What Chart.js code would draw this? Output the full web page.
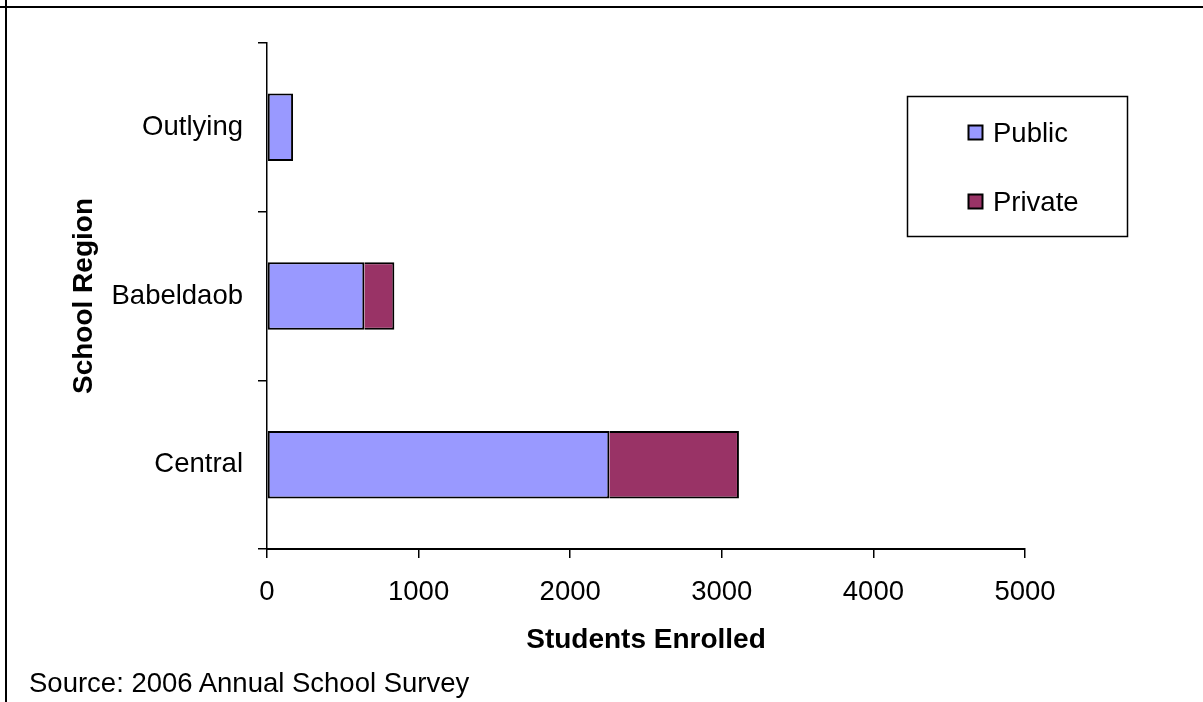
<!DOCTYPE html>
<html>
<head>
<meta charset="utf-8">
<title>Students Enrolled by School Region</title>
<script src="https://cdn.jsdelivr.net/npm/chart.js@4.4.1/dist/chart.umd.min.js"></script>
<style>
  html, body { margin: 0; padding: 0; background: #fff; }
  body {
    width: 1203px;
    height: 702px;
    position: relative;
    overflow: hidden;
    font-family: "Liberation Sans", Arial, sans-serif;
  }
  .frame-top { position: absolute; left: 0; top: 6px; width: 1203px; height: 2px; background: #000; }
  .frame-left { position: absolute; left: 5px; top: 0; width: 2px; height: 702px; background: #000; }
  #chartWrap { position: absolute; left: 0; top: 0; width: 1203px; height: 702px; }
  .source {
    position: absolute;
    left: 29px;
    top: 669px;
    font-size: 27.5px;
    line-height: 27px;
    color: #000;
    white-space: nowrap;
  }
</style>
</head>
<body>
<div id="chartWrap"><canvas id="mainChart" width="1203" height="702"></canvas></div>
<div class="frame-top"></div>
<div class="frame-left"></div>
<div class="source">Source: 2006 Annual School Survey</div>

<script>
const FONT_FAMILY = '"Liberation Sans", Arial, sans-serif';

// data
const regions = ["Outlying", "Babeldaob", "Central"];
const publicStudents = [172, 642, 2258];
const privateStudents = [0, 198, 855];
const seriesNames = ["Public", "Private"];
const seriesColors = ["#9999FF", "#993366"];
const xTickMin = 0;
const xTickMax = 5000;
const xTickStep = 1000;

// draws the boxed legend that sits inside the plot, Excel style
const boxedLegend = {
  id: "boxedLegend",
  afterDraw(chart) {
    const { ctx } = chart;
    const box = { x: 907, y: 96, w: 220, h: 140 };
    ctx.save();
    ctx.fillStyle = "#fff";
    ctx.fillRect(box.x, box.y, box.w, box.h);
    ctx.strokeStyle = "#000";
    ctx.lineWidth = 1.5;
    ctx.strokeRect(box.x + 0.5, box.y + 0.5, box.w, box.h);

    const rowY = [133, 202];
    ctx.font = `27.5px ${FONT_FAMILY}`;
    ctx.textBaseline = "middle";
    ctx.textAlign = "left";
    chart.data.datasets.forEach((ds, i) => {
      const cy = rowY[i];
      ctx.fillStyle = ds.backgroundColor;
      ctx.fillRect(968.5, cy - 7.5, 14, 14);
      ctx.lineWidth = 2;
      ctx.strokeStyle = "#000";
      ctx.strokeRect(968.5, cy - 7.5, 14, 14);
      ctx.fillStyle = "#000";
      ctx.fillText(ds.label, 993, cy + 1);
    });
    ctx.restore();
  },
};

const config = {
  type: "bar",
  data: {
    labels: regions,
    datasets: [
      {
        label: seriesNames[0],
        data: publicStudents,
        backgroundColor: seriesColors[0],
        borderColor: "#000",
        borderWidth: { top: 2, right: 2, bottom: 2, left: 2 },
        borderSkipped: false,
      },
      {
        label: seriesNames[1],
        data: privateStudents,
        backgroundColor: seriesColors[1],
        borderColor: "#000",
        borderWidth: { top: 2, right: 2, bottom: 2, left: 0 },
        borderSkipped: false,
      },
    ],
  },
  options: {
    indexAxis: "y",
    responsive: false,
    animation: false,
    devicePixelRatio: 1,
    barPercentage: 0.4,
    categoryPercentage: 1,
    layout: { padding: { top: 43, left: 10, right: 178, bottom: 45 } },
    plugins: {
      legend: { display: false },
      tooltip: { enabled: false },
    },
    scales: {
      x: {
        stacked: true,
        min: xTickMin,
        max: xTickMax,
        afterFit: (scale) => { scale.height = 108; },
        border: { color: "#000", width: 2 },
        grid: { drawOnChartArea: false, tickLength: 9, color: "#000", lineWidth: 1.5 },
        ticks: {
          stepSize: xTickStep,
          color: "#000",
          padding: 18,
          maxRotation: 0,
          font: { size: 27.5, family: FONT_FAMILY },
          callback: (value) => String(value),
        },
        title: {
          display: true,
          text: "Students Enrolled",
          color: "#000",
          padding: { top: 0, bottom: 0 },
          font: { size: 28, weight: "bold", family: FONT_FAMILY },
        },
      },
      y: {
        stacked: true,
        offset: true,
        afterFit: (scale) => { scale.width = 257; },
        border: { color: "#000", width: 1.5 },
        grid: { offset: true, drawOnChartArea: false, tickLength: 9, color: "#000", lineWidth: 1.5 },
        ticks: {
          color: "#000",
          padding: 15,
          font: { size: 27.5, family: FONT_FAMILY },
        },
        title: {
          display: true,
          text: "School Region",
          color: "#000",
          padding: { top: 57, bottom: 0 },
          font: { size: 28, weight: "bold", family: FONT_FAMILY },
        },
      },
    },
  },
  plugins: [boxedLegend],
};

new Chart(document.getElementById("mainChart"), config);
</script>
</body>
</html>
